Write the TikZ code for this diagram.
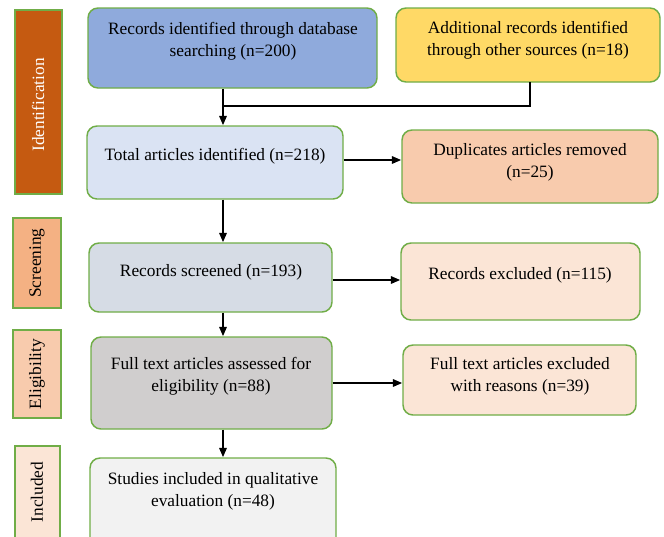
\documentclass[tikz,border=0pt]{standalone}
\usepackage{fontspec}
\setmainfont{Liberation Serif}
\usetikzlibrary{fit,arrows.meta}
\definecolor{idc}{HTML}{C55A11}
\definecolor{scc}{HTML}{F4B183}
\definecolor{elc}{HTML}{F8CBAD}
\definecolor{inc}{HTML}{FBE5D6}
\definecolor{dbc}{HTML}{8FAADC}
\definecolor{adc}{HTML}{FFD966}
\definecolor{totc}{HTML}{DAE3F3}
\definecolor{dupc}{HTML}{F8CBAD}
\definecolor{scrc}{HTML}{D6DCE5}
\definecolor{exc}{HTML}{FBE5D6}
\definecolor{fullc}{HTML}{D0CECE}
\definecolor{studc}{HTML}{F2F2F2}
\definecolor{edgec}{HTML}{70AD47}
\tikzset{
  box/.style={draw=edgec, line width=1.1pt, rounded corners=7.5pt, inner sep=0pt},
  bar/.style={draw=edgec, line width=1.1pt, inner sep=0pt},
  txt/.style={align=center, inner sep=0pt, font=\fontsize{13}{16.5}\selectfont},
  side/.style={rotate=90, inner sep=0pt, font=\fontsize{13}{15}\selectfont},
  conn/.style={line width=1.5pt, black},
  arr/.style={conn, -{Triangle[length=7pt,width=5.5pt]}}
}
\begin{document}
\begin{tikzpicture}[x=0.75pt,y=-0.75pt]
\useasboundingbox (0,0) rectangle (664,536);
% side bars
\node[bar, fill=idc, fit={(15,10) (62,194)}] (bid) {};
\node[bar, fill=scc, fit={(13,218) (61,308)}] (bsc) {};
\node[bar, fill=elc, fit={(13,330) (61,418)}] (bel) {};
\node[bar, fill=inc, fit={(15,446) (60,550)}] (bin) {};
\node[side, text=white] (lid) at (38,105) {Identification};
\node[side] (lsc) at (37,263) {Screening};
\node[side] (lel) at (37,374) {Eligibility};
\node[side] (lin) at (37,492) {Included};
% boxes
\node[box, fill=dbc, fit={(88,8) (377,88)}] (db) {};
\node[box, fill=adc, fit={(396,8) (660,82)}] (add) {};
\node[box, fill=totc, fit={(87,126) (343,199)}] (tot) {};
\node[box, fill=dupc, fit={(402,130) (658,203)}] (dup) {};
\node[box, fill=scrc, fit={(89,243) (332,312)}] (scr) {};
\node[box, fill=exc, fit={(401,243) (640,320)}] (exr) {};
\node[box, fill=fullc, fit={(91,337) (332,429)}] (full) {};
\node[box, fill=exc, fit={(403,345) (636,415)}] (fexc) {};
\node[box, fill=studc, fit={(90,458) (336,560)}] (stud) {};
% texts
\node[txt] (tdb) at (233,41) {Records identified through database\\searching (n=200)};
\node[txt] (tadd) at (528,40) {Additional records identified\\through other sources (n=18)};
\node[txt] (ttot) at (215,156) {Total articles identified (n=218)};
\node[txt] (tdup) at (530,162) {Duplicates articles removed\\(n=25)};
\node[txt] (tscr) at (211,272) {Records screened (n=193)};
\node[txt] (texr) at (520,275) {Records excluded (n=115)};
\node[txt] (tfull) at (211,376) {Full text articles assessed for\\eligibility (n=88)};
\node[txt] (tfexc) at (520,376) {Full text articles excluded\\with reasons (n=39)};
\node[txt] (tstud) at (213,491) {Studies included in qualitative\\evaluation (n=48)};
% connectors
\coordinate (jn) at (223,106);
\coordinate (addb) at (530,82);
\draw[conn] (addb) |- (jn);
\draw[arr] (db.south -| jn) -- (tot.north -| jn);
\draw[arr] (tot.east |- 0,160) -- (dup.west |- 0,160);
\draw[arr] (tot.south -| jn) -- (scr.north -| jn);
\draw[arr] (scr.east |- 0,280) -- (exr.west |- 0,280);
\draw[arr] (scr.south -| jn) -- (full.north -| jn);
\draw[arr] (full.east |- 0,383) -- (fexc.west |- 0,383);
\draw[arr] (full.south -| jn) -- (stud.north -| jn);
\end{tikzpicture}
\end{document}
